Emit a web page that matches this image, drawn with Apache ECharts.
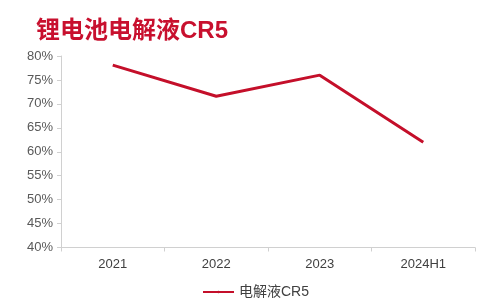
<!DOCTYPE html>
<html><head><meta charset="utf-8">
<script src="https://cdn.jsdelivr.net/npm/echarts@6/dist/echarts.min.js"></script>
<style>html,body{margin:0;padding:0;background:#fff}#c{width:487px;height:304px}</style>
</head><body><div id="c"></div>
<script>
const categories = ['2021', '2022', '2023', '2024H1'];
const cr5 = [78.1, 71.6, 76.0, 62.0];
const seriesName = '电解液CR5';
const titleText = '锂电池电解液CR5';

const chart = echarts.init(document.getElementById('c'));
chart.setOption({
  animation: false,
  backgroundColor: '#fff',
  title: {
    text: titleText, left: 31, top: 14,
    textStyle: { color: '#c8102e', fontSize: 24, fontWeight: 'bold', fontFamily: 'Liberation Sans, Noto Sans CJK SC' }
  },
  legend: {
    data: [seriesName], bottom: 0, left: 197, itemWidth: 31, itemHeight: 3, itemGap: 4,
    textStyle: { color: '#404040', fontSize: 14, fontFamily: 'Liberation Sans, Noto Sans CJK SC' }
  },
  grid: { left: 61, right: 12, top: 56, bottom: 56.5 },
  xAxis: {
    type: 'category', data: categories, boundaryGap: true,
    axisLine: { lineStyle: { color: '#d0d0d0' } },
    axisTick: { show: true, length: 4, lineStyle: { color: '#d0d0d0' } },
    axisLabel: { color: '#404040', fontSize: 13, margin: 10, fontFamily: 'Liberation Sans' }
  },
  yAxis: {
    type: 'value', min: 40, max: 80, interval: 5,
    axisLine: { show: true, lineStyle: { color: '#d0d0d0' } },
    axisTick: { show: true, length: 4, lineStyle: { color: '#d0d0d0' } },
    splitLine: { show: false },
    axisLabel: { color: '#595959', fontSize: 13, margin: 8, formatter: '{value}%', fontFamily: 'Liberation Sans' }
  },
  series: [{
    name: seriesName, type: 'line', data: cr5, symbol: 'none',
    lineStyle: { color: '#c40f2a', width: 3 }, itemStyle: { color: '#c40f2a' }
  }]
});
</script></body></html>
